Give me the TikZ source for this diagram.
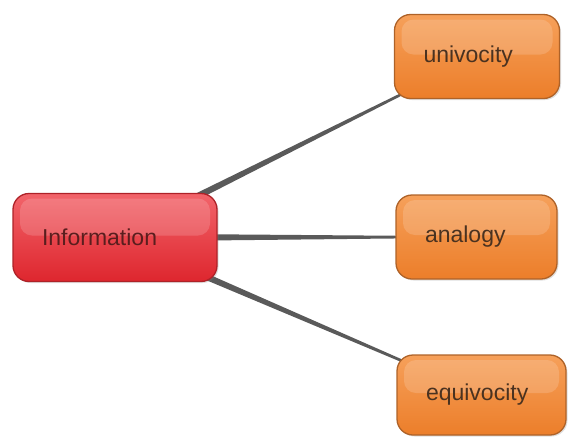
\documentclass[tikz,border=0pt]{standalone}
\usepackage{fontspec}
\setmainfont{Liberation Sans}
\usetikzlibrary{calc}
\usetikzlibrary{shadows}
\pgfdeclarelayer{background}
\pgfsetlayers{background,main}

\definecolor{infotop}{HTML}{F2646A}
\definecolor{infobot}{HTML}{DE262E}
\definecolor{infoedge}{HTML}{AE2228}
\definecolor{infotext}{HTML}{5A1E1E}
\definecolor{branchtop}{HTML}{F6A05A}
\definecolor{branchbot}{HTML}{EC7E2A}
\definecolor{branchedge}{HTML}{AE6228}
\definecolor{branchtext}{HTML}{4A3220}
\definecolor{linkgray}{HTML}{5A5A5A}

\tikzset{
    bubble/.style={
        rectangle, rounded corners=16pt, line width=1.3pt,
        align=left, inner xsep=29pt, inner ysep=0pt,
        minimum height=84pt,
        font=\fontsize{23}{26}\selectfont,
        drop shadow={opacity=0.25, shadow xshift=1.5pt, shadow yshift=-1.5pt},
        path picture={
            \fill [white, opacity=0.16, rounded corners=12pt]
                ($(path picture bounding box.north west)+(7pt,-5pt)$)
                rectangle ($(path picture bounding box.east)+(-7pt,2pt)$);
        }},
    topic/.style={bubble, draw=infoedge,
        top color=infotop, bottom color=infobot, text=infotext},
    branch/.style={bubble, draw=branchedge,
        top color=branchtop, bottom color=branchbot, text=branchtext},
    link/.style={fill=linkgray},
}

\begin{document}
\begin{tikzpicture}

% Concept map: information and its three senses

\useasboundingbox
    (0,0) rectangle (576pt,-437pt);

\node [topic, text width=146pt, minimum height=88pt] (info) at (115pt,-237.5pt) {Information};

\node [branch, text width=107pt] (univ) at (477pt,-56.5pt) {univocity};
\node [branch, text width=103pt] (analogy) at (476.5pt,-237pt) {analogy};
\node [branch, text width=111pt, minimum height=80pt] (equiv) at (481.5pt,-395pt) {equivocity};

\begin{pgfonlayer}{background}
\foreach \t in {univ,analogy,equiv}
    \fill [link]
        ($(info.center)!4pt!90:(\t.center)$) --
        ($(\t.center)!0.6pt!-90:(info.center)$) --
        ($(\t.center)!0.6pt!90:(info.center)$) --
        ($(info.center)!4pt!-90:(\t.center)$) -- cycle;
\end{pgfonlayer}

\end{tikzpicture}
\end{document}
